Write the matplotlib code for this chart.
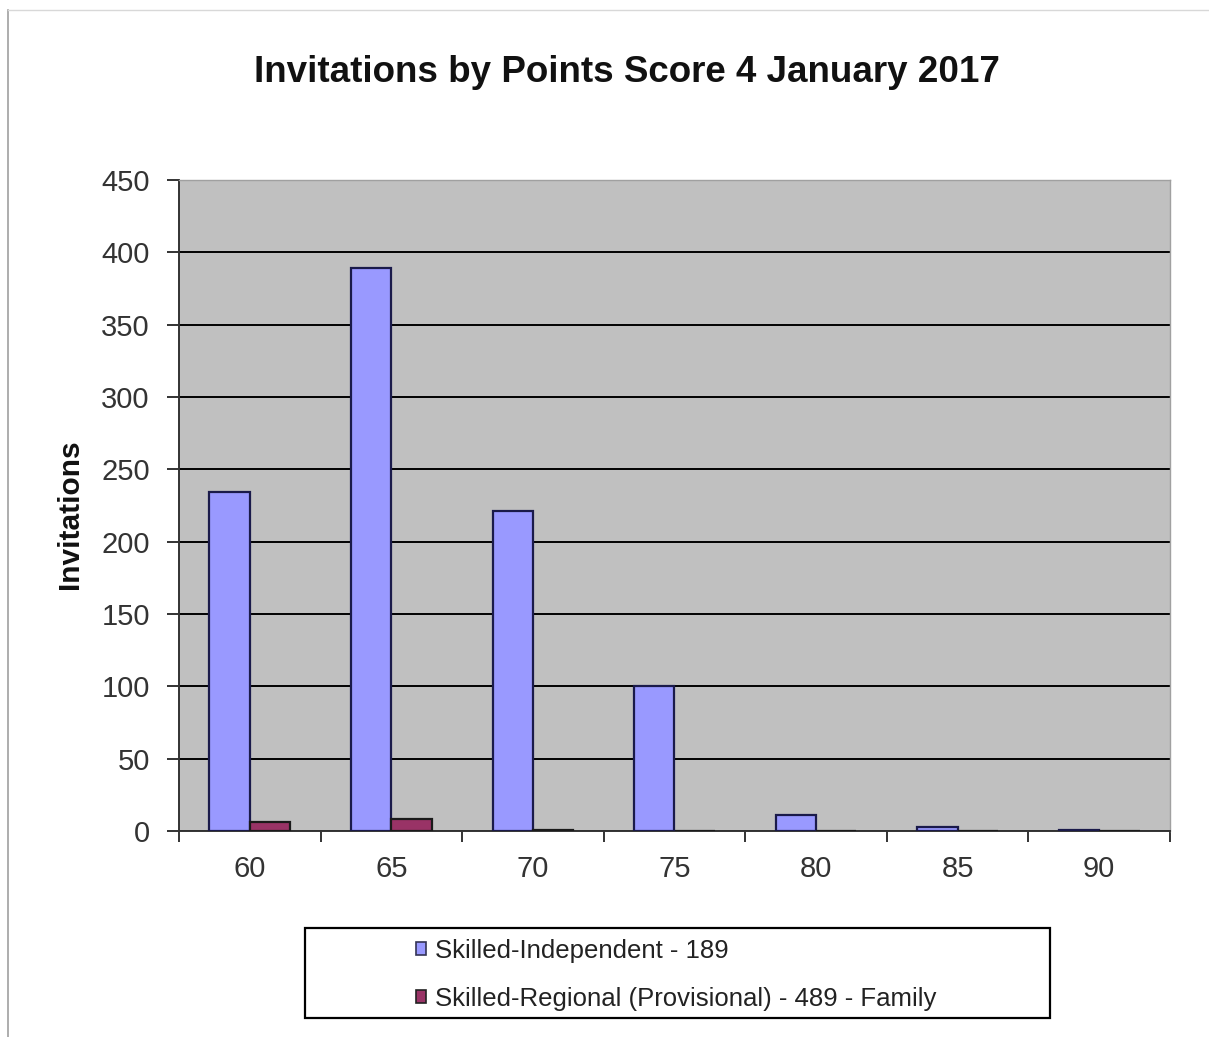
import matplotlib.pyplot as plt
import numpy as np
from matplotlib.patches import Rectangle, Patch

categories = ["60", "65", "70", "75", "80", "85", "90"]
skilled_independent = [234, 389, 221, 100, 11, 3, 1]
skilled_regional = [6, 8, 1, 0, 0, 0, 0]
series_labels = ["Skilled-Independent - 189", "Skilled-Regional (Provisional) - 489 - Family"]
yticks = [0, 50, 100, 150, 200, 250, 300, 350, 400, 450]

plt.rcParams['font.family'] = ['Liberation Sans', 'DejaVu Sans']

W, H = 1209, 1037
fig = plt.figure(figsize=(W / 100, H / 100), dpi=100)
fig.patch.set_facecolor('white')

# outer chart border (left and top gray line)
fig.add_artist(plt.Line2D([8 / W, 8 / W], [1 - 10 / H, 0], color='#a0a0a0', lw=1.2))
fig.add_artist(plt.Line2D([8 / W, 1], [1 - 10 / H, 1 - 10 / H], color='#d8d8d8', lw=1.0))

left, right, top, bottom = 179, 1170, 180, 831
ax = fig.add_axes([left / W, 1 - bottom / H, (right - left) / W, (bottom - top) / H])
ax.set_facecolor('#C0C0C0')

blue, red = '#9999FF', '#993366'
x = np.arange(len(categories))
bw = 0.285
ax.bar(x - bw / 2, skilled_independent, width=bw, color=blue, edgecolor='#1a1a4a', linewidth=1.6, zorder=3)
ax.bar(x + bw / 2, skilled_regional, width=bw, color=red, edgecolor='#1a1a1a', linewidth=1.6, zorder=3)

ax.set_ylim(0, 450)
ax.set_xlim(-0.5, len(categories) - 0.5)
ax.set_yticks(yticks)
ax.set_yticklabels([str(v) for v in yticks], fontsize=21, color='#333333')
ax.yaxis.grid(True, color='black', linewidth=1.4, zorder=1)
ax.set_axisbelow(True)

# x ticks at category boundaries, labels at centres
ax.set_xticks(np.arange(-0.5, len(categories), 1.0))
ax.set_xticklabels([])
ax.set_xticks(x, minor=True)
ax.set_xticklabels(categories, minor=True, fontsize=21, color='#333333')
ax.tick_params(axis='x', which='minor', length=0, pad=17)
ax.tick_params(axis='x', which='major', length=8, width=1.4, color='#333333', direction='out')
ax.tick_params(axis='y', length=9, width=1.4, color='#333333', direction='out', pad=12)

for s in ['top', 'right']:
    ax.spines[s].set_color('#a0a0a0')
    ax.spines[s].set_linewidth(1.0)
for s in ['left', 'bottom']:
    ax.spines[s].set_color('#333333')
    ax.spines[s].set_linewidth(1.4)

ax.set_ylabel('Invitations', fontsize=21.5, fontweight='bold', color='#111111')
ax.yaxis.set_label_coords((84 - left) / (right - left), 0.487)
fig.text(627 / W, 1 - 72 / H, 'Invitations by Points Score 4 January 2017', ha='center', va='center',
         fontsize=26.5, fontweight='bold', color='#111111')

# legend frame
fig.add_artist(Rectangle((305 / W, 1 - 1018 / H), 745 / W, 90 / H, transform=fig.transFigure,
                         facecolor='white', edgecolor='black', linewidth=1.6, zorder=5))
handles = [Patch(facecolor=blue, edgecolor='#333355', linewidth=1.2),
           Patch(facecolor=red, edgecolor='#222222', linewidth=1.2)]
leg = fig.legend(handles, series_labels, loc='upper left', bbox_to_anchor=(408 / W, 1 - 931 / H),
                 bbox_transform=fig.transFigure, fontsize=18.5, frameon=False,
                 handlelength=0.4, handleheight=0.4, handletextpad=0.35, labelspacing=0.95,
                 borderpad=0.3, borderaxespad=0)
leg.set_zorder(6)
for t in leg.get_texts():
    t.set_color('#222222')

fig.savefig('out.png', dpi=100)
